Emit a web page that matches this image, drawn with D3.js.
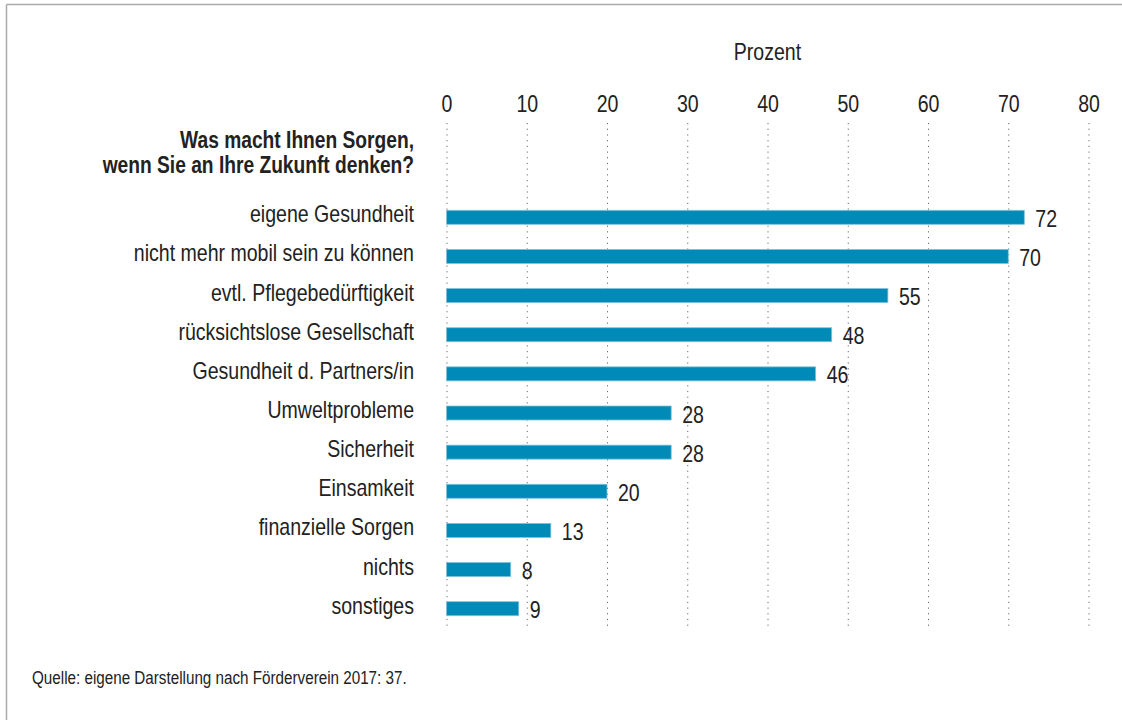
<!DOCTYPE html>
<html>
<head>
<meta charset="utf-8">
<script src="https://cdn.jsdelivr.net/npm/d3@7"></script>
<style>
  body { margin: 0; background: #fff; }
  text { font-family: "Liberation Sans", Arial, sans-serif; fill: #222; }
</style>
</head>
<body>
<script>
// data
const categories = [
    "eigene Gesundheit",
    "nicht mehr mobil sein zu können",
    "evtl. Pflegebedürftigkeit",
    "rücksichtslose Gesellschaft",
    "Gesundheit d. Partners/in",
    "Umweltprobleme",
    "Sicherheit",
    "Einsamkeit",
    "finanzielle Sorgen",
    "nichts",
    "sonstiges"
];
const values = [72, 70, 55, 48, 46, 28, 28, 20, 13, 8, 9];
const xTicks = [0, 10, 20, 30, 40, 50, 60, 70, 80];
const titleLines = ["Was macht Ihnen Sorgen,", "wenn Sie an Ihre Zukunft denken?"];
const axisTitle = "Prozent";
const source = "Quelle: eigene Darstellung nach Förderverein 2017: 37.";

let width = 1122, height = 720;
let fs = 23, narrow = 0.85; // condensed look of the original font

let svg = d3.select("body").append("svg")
    .attr("width", width)
    .attr("height", height);

// place a text at (x, y) squeezed horizontally
function place(sel, fx, fy, sx) {
    sel.attr("transform", (d, i) => `translate(${fx(d, i)}, ${fy(d, i)}) scale(${sx || narrow}, 1)`);
}

// frame lines (top and left only)
svg.append("line")
    .attr("x1", 6.5).attr("x2", width).attr("y1", 4.5).attr("y2", 4.5)
    .attr("stroke", "#aaa").attr("stroke-width", 1.5);
svg.append("line")
    .attr("x1", 6.5).attr("x2", 6.5).attr("y1", 4.5).attr("y2", height)
    .attr("stroke", "#aaa").attr("stroke-width", 1.5);

// scales
const x = d3.scaleLinear().domain([0, 80]).range([446.5, 1088.5]);
const y = d3.scalePoint().domain(categories).range([217.3, 608.7]);
const barH = 14;
const gridTop = 123, gridBottom = 628;

// axis on top with dotted grid lines
let axis = svg.append("g")
    .attr("transform", `translate(0, ${gridTop})`)
    .call(d3.axisTop(x).tickValues(xTicks).tickSize(-(gridBottom - gridTop)).tickPadding(11.5));
axis.select(".domain").remove();
axis.selectAll(".tick line")
    .attr("stroke", "#6a6a6a")
    .attr("stroke-width", 1)
    .attr("stroke-dasharray", "1.2,4.5");
axis.selectAll(".tick text")
    .attr("font-size", fs)
    .attr("font-family", null)
    .attr("y", null)
    .attr("transform", `translate(0, -11.5) scale(${narrow}, 1)`);

svg.append("text")
    .attr("text-anchor", "middle")
    .attr("font-size", fs)
    .text(axisTitle)
    .call(place, () => (x(0) + x(80)) / 2, () => 60);

// title
svg.selectAll(".title")
    .data(titleLines)
    .enter()
    .append("text")
    .attr("class", "title")
    .attr("text-anchor", "end")
    .attr("font-size", fs)
    .attr("font-weight", "bold")
    .text(d => d)
    .call(place, () => 414, (d, i) => 148 + i * 25, 0.835);

// bars
svg.selectAll(".bar")
    .data(values)
    .enter()
    .append("rect")
    .attr("class", "bar")
    .attr("x", x(0))
    .attr("y", (d, i) => y(categories[i]) - barH / 2)
    .attr("width", d => x(d) - x(0))
    .attr("height", barH)
    .attr("fill", "#008ab8")
    .attr("stroke", "#7cc3dc")
    .attr("stroke-width", 0.8);

// category labels
svg.selectAll(".cat")
    .data(categories)
    .enter()
    .append("text")
    .attr("class", "cat")
    .attr("text-anchor", "end")
    .attr("font-size", fs)
    .text(d => d)
    .call(place, () => 414, d => y(d) + 5);

// value labels
svg.selectAll(".val")
    .data(values)
    .enter()
    .append("text")
    .attr("class", "val")
    .attr("font-size", fs)
    .text(d => d)
    .call(place, d => x(d) + 11, (d, i) => y(categories[i]) + 9.5);

// source
svg.append("text")
    .attr("font-size", 17.5)
    .text(source)
    .call(place, () => 32, () => 684, 0.87);
</script>
</body>
</html>
